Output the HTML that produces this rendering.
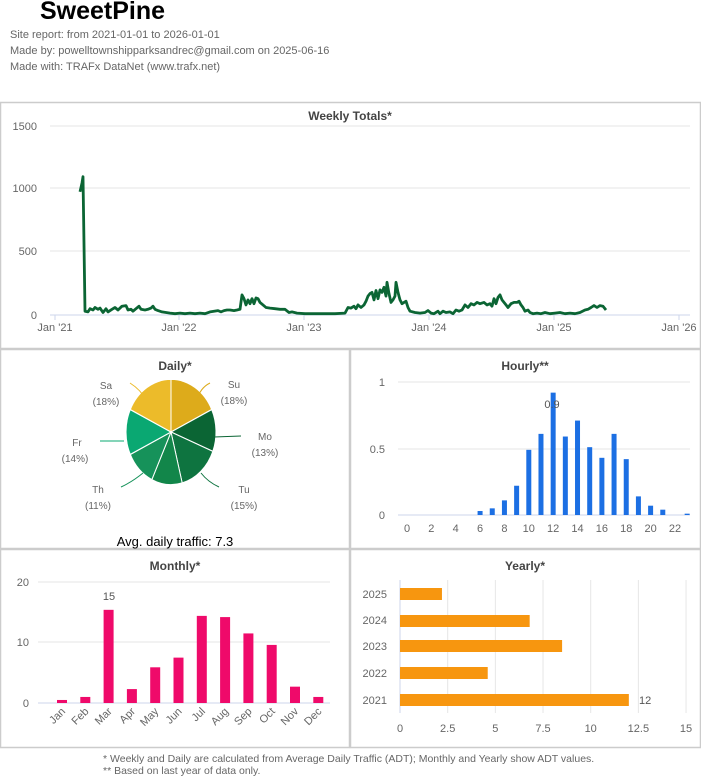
<!DOCTYPE html><html><head><style>
body{margin:0;width:701px;height:778px;overflow:hidden;background:#fff;font-family:"Liberation Sans",sans-serif;position:relative}
.h{position:absolute;left:10px;color:#666;font-size:11px}
svg text{font-family:"Liberation Sans",sans-serif}
</style></head><body>
<div style="position:absolute;left:40px;top:-3px;font-size:25px;font-weight:bold;color:#000">SweetPine</div>
<div class="h" style="top:29px">Site report: from 2021-01-01 to 2026-01-01</div>
<div class="h" style="top:45px">Made by: powelltownshipparksandrec@gmail.com on 2025-06-16</div>
<div class="h" style="top:61px">Made with: TRAFx DataNet (www.trafx.net)</div>
<svg width="701" height="778" style="position:absolute;left:0;top:0">
<g fill="none" stroke="#ccc" stroke-width="1.5">
<rect x="0.5" y="102.5" width="700" height="246"/>
<rect x="0.5" y="349.5" width="349" height="199"/><rect x="350.5" y="349.5" width="350" height="199"/>
<rect x="0.5" y="549.5" width="349" height="198"/><rect x="350.5" y="549.5" width="350" height="198"/>
</g>
<text x="350" y="120" text-anchor="middle" font-size="12" font-weight="bold" fill="#444">Weekly Totals*</text>
<g stroke="#e6e6e6"><line x1="50" x2="690" y1="126" y2="126"/><line x1="50" x2="690" y1="188" y2="188"/><line x1="50" x2="690" y1="251" y2="251"/></g>
<line x1="50" x2="690" y1="315" y2="315" stroke="#ccd6eb"/>
<g font-size="11" fill="#666" text-anchor="end"><text x="37" y="130">1500</text><text x="37" y="192">1000</text><text x="37" y="255">500</text><text x="37" y="319">0</text></g>
<g font-size="11" fill="#666" text-anchor="middle"><text x="55" y="331">Jan '21</text><text x="179" y="331">Jan '22</text><text x="304" y="331">Jan '23</text><text x="429" y="331">Jan '24</text><text x="554" y="331">Jan '25</text><text x="679" y="331">Jan '26</text></g>
<g stroke="#ccd6eb"><line x1="55" x2="55" y1="315" y2="320"/><line x1="179" x2="179" y1="315" y2="320"/><line x1="304" x2="304" y1="315" y2="320"/><line x1="429" x2="429" y1="315" y2="320"/><line x1="554" x2="554" y1="315" y2="320"/><line x1="679" x2="679" y1="315" y2="320"/></g>
<polyline id="wk" fill="none" stroke="#0b6534" stroke-width="2.8" stroke-linejoin="round" points=""/>
<text x="175" y="370" text-anchor="middle" font-size="12" font-weight="bold" fill="#444">Daily*</text>
<g id="pie" transform="translate(171,432) scale(1,1.17)"></g>
<g font-size="10" fill="#666" text-anchor="middle">
<text x="234" y="388">Su</text><text x="234" y="404">(18%)</text>
<text x="106" y="389">Sa</text><text x="106" y="405">(18%)</text>
<text x="265" y="440">Mo</text><text x="265" y="456">(13%)</text>
<text x="77" y="446">Fr</text><text x="75" y="462">(14%)</text>
<text x="244" y="493">Tu</text><text x="244" y="509">(15%)</text>
<text x="98" y="493">Th</text><text x="98" y="509">(11%)</text></g>
<g fill="none" stroke-width="1"><path d="M210,383 Q200,388 197,400" stroke="#ddab1b"/><path d="M130,383 Q141,390 146,400" stroke="#ecbb2a"/><path d="M241,436 L214,437" stroke="#0b6534"/><path d="M100,441 L124,441" stroke="#0aa872"/><path d="M219,487 Q208,482 201,473" stroke="#0e7440"/><path d="M121,487 Q132,482 143,473" stroke="#16925a"/></g>
<text x="175" y="546" text-anchor="middle" font-size="13" fill="#000">Avg. daily traffic: 7.3</text>
<text x="525" y="370" text-anchor="middle" font-size="12" font-weight="bold" fill="#444">Hourly**</text>
<g stroke="#e6e6e6"><line x1="398" x2="690" y1="382" y2="382"/><line x1="398" x2="690" y1="449" y2="449"/></g>
<line x1="398" x2="690" y1="515" y2="515" stroke="#ccd6eb"/>
<g font-size="11" fill="#666" text-anchor="end"><text x="385" y="386">1</text><text x="385" y="453">0.5</text><text x="385" y="519">0</text></g>
<g id="hr"></g>
<text x="552" y="408" text-anchor="middle" font-size="11" fill="#555">0.9</text>
<text x="175" y="570" text-anchor="middle" font-size="12" font-weight="bold" fill="#444">Monthly*</text>
<g stroke="#e6e6e6"><line x1="38" x2="330" y1="582" y2="582"/><line x1="38" x2="330" y1="642" y2="642"/></g>
<line x1="38" x2="330" y1="703" y2="703" stroke="#ccd6eb"/>
<g font-size="11" fill="#666" text-anchor="end"><text x="29" y="586">20</text><text x="29" y="646">10</text><text x="29" y="707">0</text></g>
<g id="mo"></g>
<text x="109" y="600" text-anchor="middle" font-size="11" fill="#555">15</text>
<text x="525" y="570" text-anchor="middle" font-size="12" font-weight="bold" fill="#444">Yearly*</text>
<g id="yr"></g>
<g font-size="11" fill="#666" text-anchor="end"><text x="387" y="598">2025</text><text x="387" y="624">2024</text><text x="387" y="650">2023</text><text x="387" y="677">2022</text><text x="387" y="704">2021</text></g>
<text x="639" y="704" font-size="11" fill="#555">12</text>
<g font-size="10.5" fill="#666"><text x="103" y="762">* Weekly and Daily are calculated from Average Daily Traffic (ADT); Monthly and Yearly show ADT values.</text><text x="103" y="774">** Based on last year of data only.</text></g>
</svg>
<script>
var NS="http://www.w3.org/2000/svg";
function el(p,t,a){var e=document.createElementNS(NS,t);for(var k in a)e.setAttribute(k,a[k]);p.appendChild(e);return e;}
var d=[80,980,82,1050,83,1100,85,30,88,25,90,50,93,40,95,60,98,45,100,55,103,20,106,50,108,25,112,45,115,60,118,40,122,70,126,75,128,40,131,45,133,30,136,50,139,70,141,45,145,40,148,45,151,55,153,70,155,45,158,35,162,25,166,20,170,15,175,10,180,15,185,10,190,15,195,10,200,15,205,10,210,25,214,30,218,35,221,25,224,35,227,40,230,40,234,35,237,40,240,45,242,160,244,130,246,80,248,120,250,90,252,130,254,90,256,135,258,130,260,100,263,80,266,60,270,55,275,50,280,45,285,45,289,20,292,25,297,15,305,10,315,10,325,10,335,10,345,15,348,60,351,55,354,70,356,50,358,80,361,60,364,80,366,110,368,150,370,170,372,180,374,120,376,195,378,130,380,200,382,180,384,220,386,150,387,260,389,170,391,100,393,120,395,150,396,260,398,180,400,120,402,90,404,100,406,110,408,60,410,30,415,20,420,15,425,20,428,35,431,15,434,10,438,30,440,10,443,30,446,20,450,25,453,10,456,40,459,30,462,40,465,80,468,60,471,90,474,80,477,100,480,90,484,100,487,80,490,90,492,70,494,130,496,90,498,140,500,160,502,120,504,100,506,80,508,60,511,90,514,100,517,100,519,110,521,80,523,60,525,30,528,40,530,20,533,10,537,15,541,10,545,20,550,10,555,15,560,20,565,10,570,15,575,10,580,20,585,40,588,45,591,60,594,75,597,60,600,75,603,70,605,50,606,40];
var s=[];for(var i=0;i<d.length;i+=2)s.push(d[i]+","+(315-d[i+1]*0.1257).toFixed(1));
document.getElementById("wk").setAttribute("points",s.join(" "));
var pie=document.getElementById("pie"),pv=[18,13,15,11,11,14,18],pc=["#ddab1b","#0b6534","#0e7440","#12864a","#16925a","#0aa872","#ecbb2a"],a=-Math.PI/2,r=45;
for(var i=0;i<7;i++){var b=a+pv[i]/100*2*Math.PI;el(pie,"path",{d:"M0,0 L"+(r*Math.cos(a))+","+(r*Math.sin(a))+" A"+r+","+r+" 0 0 1 "+(r*Math.cos(b))+","+(r*Math.sin(b))+"Z",fill:pc[i],stroke:"#fff","stroke-width":1});a=b;}
var hr=document.getElementById("hr"),hv={6:.03,7:.05,8:.11,9:.22,10:.49,11:.61,12:.92,13:.59,14:.71,15:.51,16:.43,17:.61,18:.42,19:.14,20:.07,21:.04,23:.01};
for(var h in hv){var x=407+h*12.18;el(hr,"rect",{x:x-2.5,y:515-hv[h]*133,width:5,height:hv[h]*133,fill:"#1c6fe3"});}
for(var h=0;h<=22;h+=2){var t=el(hr,"text",{x:407+h*12.18,y:532,"font-size":11,fill:"#666","text-anchor":"middle"});t.textContent=h;}
var mo=document.getElementById("mo"),mv=[.5,1,15.4,2.3,5.9,7.5,14.4,14.2,11.5,9.6,2.7,1],mn=["Jan","Feb","Mar","Apr","May","Jun","Jul","Aug","Sep","Oct","Nov","Dec"];
for(var i=0;i<12;i++){var x=62+i*23.3;el(mo,"rect",{x:x-5,y:703-mv[i]*6.05,width:10,height:mv[i]*6.05,fill:"#ef0a6a"});var t=el(mo,"text",{x:x+4,y:712,"font-size":11,fill:"#666","text-anchor":"end",transform:"rotate(-45 "+(x+4)+" 712)"});t.textContent=mn[i];}
var yr=document.getElementById("yr"),yv=[2.2,6.8,8.5,4.6,12],yy=[594,621,646,673,700];
[0,2.5,5,7.5,10,12.5,15].forEach(function(v){var x=400+v*19.07;el(yr,"line",{x1:x,x2:x,y1:580,y2:713,stroke:v?"#e6e6e6":"#ccd6eb"});var t=el(yr,"text",{x:x,y:732,"font-size":11,fill:"#666","text-anchor":"middle"});t.textContent=v;});
for(var i=0;i<5;i++)el(yr,"rect",{x:400,y:yy[i]-6,width:yv[i]*19.07,height:12,fill:"#f7960f"});
</script>
</body></html>
